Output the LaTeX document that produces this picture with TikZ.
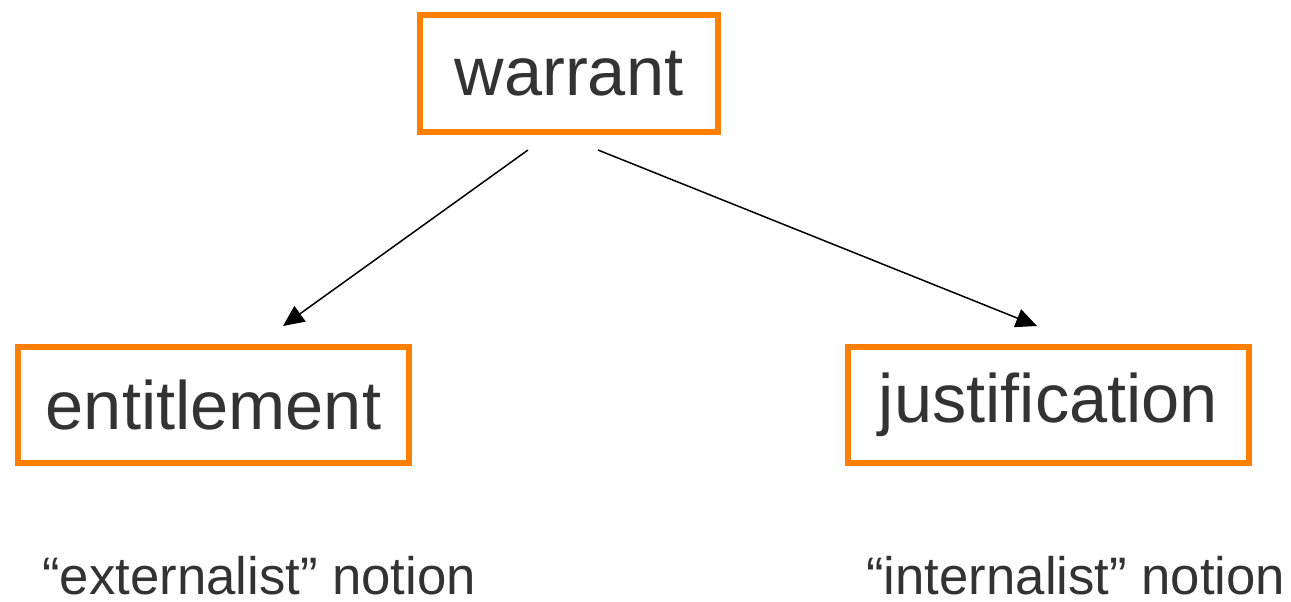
\documentclass[tikz,border=0pt]{standalone}
\usepackage{fontspec}
\setmainfont{Liberation Sans}
\usetikzlibrary{arrows.meta}
\definecolor{boxorange}{HTML}{FF8000}
\definecolor{textgrey}{HTML}{333333}
\tikzset{
	termbox/.style={draw=boxorange,line width=3.6pt,text=textgrey,font=\fontsize{39}{44}\selectfont},
	notion/.style={text=textgrey,font=\fontsize{30}{34}\selectfont,anchor=base west,inner sep=0pt},
	link/.style={-{Triangle[length=0.42cm,width=0.38cm]},line width=0.85pt}
}
\begin{document}
\begin{tikzpicture}
		\useasboundingbox (0,0) rectangle (25.82,-12.04);
		% set up nodes
		\node[termbox,minimum width=5.96cm,minimum height=2.34cm] (warrant) at (11.38,-1.47) {\raisebox{-0.1cm}{warrant}};
		\node[termbox,minimum width=7.82cm,minimum height=2.32cm] (entitle) at (4.27,-8.1) {entitlement};
		\node[termbox,minimum width=8.02cm,minimum height=2.32cm] (justify) at (20.97,-8.1) {\raisebox{-0.08cm}{justification}};
		\node[notion] (extern) at (0.84,-11.88) {“externalist” notion};
		\node[notion] (intern) at (17.32,-11.88) {“internalist” notion};
		\coordinate (wl) at (10.56,-3.0);
		\coordinate (wr) at (11.96,-3.0);
		\coordinate (el) at (5.66,-6.52);
		\coordinate (jr) at (20.74,-6.52);
		% connect them
		\draw[link] (wl) -- (el);
		\draw[link] (wr) -- (jr);
	\end{tikzpicture}
\end{document}
